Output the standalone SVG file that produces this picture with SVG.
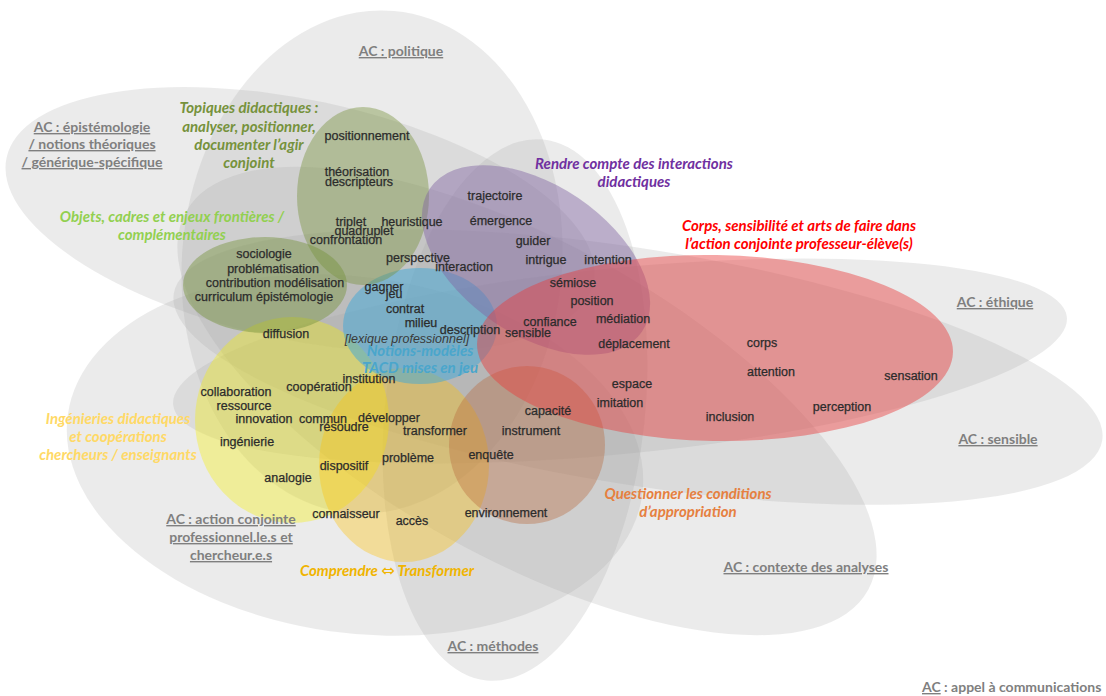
<svg xmlns="http://www.w3.org/2000/svg" width="1106" height="696" viewBox="0 0 1106 696">
<style>
.gray{fill:#a6a6a6;fill-opacity:.22}
.ac{font-family:Lato,"Liberation Sans",sans-serif;font-weight:bold;font-size:14px;fill:#7f7f7f;text-anchor:middle;text-decoration:underline}
.lab{font-family:Lato,"Liberation Sans",sans-serif;font-weight:bold;font-style:italic;font-size:15px;text-anchor:middle}
.w{font-family:"Liberation Sans",Arial,sans-serif;font-size:12.5px;fill:#2b2b2b;stroke:#2b2b2b;stroke-width:.25;text-anchor:middle}
</style>
<rect width="1106" height="696" fill="#ffffff"/>
<g id="ac-politique"><ellipse class="gray" cx="372" cy="262" rx="190" ry="252" transform="rotate(5 372 262)"/></g>
<g id="ac-epistemologie"><ellipse class="gray" cx="300" cy="220" rx="300" ry="120" transform="rotate(12 300 220)"/></g>
<g id="ac-action-conjointe"><ellipse class="gray" cx="355" cy="455" rx="290" ry="178" transform="rotate(8 355 455)"/></g>
<g id="ac-methodes"><ellipse class="gray" cx="515" cy="410" rx="130" ry="272" transform="rotate(6 515 410)"/></g>
<g id="ac-contexte"><ellipse class="gray" cx="527" cy="401" rx="390" ry="158" transform="rotate(29 527 401)"/></g>
<g id="ac-sensible"><ellipse class="gray" cx="638" cy="367" rx="470" ry="118" transform="rotate(9 638 367)"/></g>
<g id="ac-ethique"><ellipse class="gray" cx="620" cy="361" rx="449" ry="93" transform="rotate(-5.6 620 361)"/></g>

<g id="ingenieries"><ellipse cx="292" cy="420" rx="97" ry="103" fill="#f5f000" fill-opacity=".35"/></g>
<g id="comprendre"><ellipse cx="404" cy="465" rx="85" ry="97" fill="#ffc000" fill-opacity=".35"/></g>
<g id="questionner"><ellipse cx="527" cy="445" rx="78" ry="79" fill="#b86a3c" fill-opacity=".38"/></g>
<g id="notions"><ellipse cx="420" cy="326" rx="77" ry="58" fill="#40a8d8" fill-opacity=".5"/></g>
<g id="topiques"><ellipse cx="363" cy="196" rx="66" ry="89" fill="#76923c" fill-opacity=".42"/></g>
<g id="objets"><ellipse cx="265" cy="285" rx="82" ry="48" fill="#76923c" fill-opacity=".45"/></g>
<g id="rendre-compte"><ellipse cx="536" cy="260" rx="128" ry="75" transform="rotate(34 536 260)" fill="#8064a2" fill-opacity=".45"/></g>
<g id="corps"><ellipse cx="715" cy="348" rx="238" ry="93" transform="rotate(1 715 348)" fill="#e83c3c" fill-opacity=".45"/></g>

<g id="ac-labels">
<text class="ac" x="401" y="56">AC : politique</text>
<text class="ac" x="92" y="132">AC : épistémologie</text>
<text class="ac" x="92" y="149">/ notions théoriques</text>
<text class="ac" x="92" y="167">/ générique-spécifique</text>
<text class="ac" x="995" y="307">AC : éthique</text>
<text class="ac" x="998" y="444">AC : sensible</text>
<text class="ac" x="806" y="572">AC : contexte des analyses</text>
<text class="ac" x="493" y="651">AC : méthodes</text>
<text class="ac" x="231" y="524">AC : action conjointe</text>
<text class="ac" x="231" y="542">professionnel.le.s et</text>
<text class="ac" x="231" y="560">chercheur.e.s</text>
<text x="922" y="692" font-family="Lato,'Liberation Sans',sans-serif" font-weight="bold" font-size="14" fill="#7f7f7f"><tspan text-decoration="underline">AC</tspan> : appel à communications</text>
</g>

<g id="theme-labels">
<text class="lab" fill="#76923c" x="249" y="113">Topiques didactiques :</text>
<text class="lab" fill="#76923c" x="249" y="132">analyser, positionner,</text>
<text class="lab" fill="#76923c" x="249" y="150">documenter l’agir</text>
<text class="lab" fill="#76923c" x="249" y="168">conjoint</text>
<text class="lab" fill="#92d050" x="172" y="222">Objets, cadres et enjeux frontières /</text>
<text class="lab" fill="#92d050" x="172" y="240">complémentaires</text>
<text class="lab" fill="#7030a0" x="634" y="169">Rendre compte des interactions</text>
<text class="lab" fill="#7030a0" x="634" y="187">didactiques</text>
<text class="lab" fill="#ff0000" x="799" y="231">Corps, sensibilité et arts de faire dans</text>
<text class="lab" fill="#ff0000" x="799" y="249">l’action conjointe professeur-élève(s)</text>
<text class="lab" fill="#ffd966" x="118" y="424">Ingénieries didactiques</text>
<text class="lab" fill="#ffd966" x="118" y="442">et coopérations</text>
<text class="lab" fill="#ffd966" x="118" y="460">chercheurs / enseignants</text>
<text class="lab" fill="#4aa6cc" x="420" y="356">Notions-modèles</text>
<text class="lab" fill="#4aa6cc" x="420" y="373">TACD mises en jeu</text>
<text class="lab" fill="#e6803f" x="688" y="499">Questionner les conditions</text>
<text class="lab" fill="#e6803f" x="688" y="517">d’appropriation</text>
<text class="lab" fill="#f0b400" x="387" y="576">Comprendre <tspan font-family="'DejaVu Sans',sans-serif" font-style="normal" font-weight="normal" font-size="16">⇔</tspan> Transformer</text>
<text x="407" y="343" font-family="'Liberation Sans',Arial,sans-serif" font-style="italic" font-size="12.5" fill="#3a3a3a" text-anchor="middle">[lexique professionnel]</text>
</g>

<g id="terms">
<text class="w" x="367" y="140">positionnement</text>
<text class="w" x="357" y="176">théorisation</text>
<text class="w" x="359" y="186">descripteurs</text>
<text class="w" x="351" y="226">triplet</text>
<text class="w" x="412" y="226">heuristique</text>
<text class="w" x="364" y="235">quadruplet</text>
<text class="w" x="346" y="244">confrontation</text>
<text class="w" x="495" y="200">trajectoire</text>
<text class="w" x="501" y="225">émergence</text>
<text class="w" x="533" y="245">guider</text>
<text class="w" x="546" y="264">intrigue</text>
<text class="w" x="608" y="264">intention</text>
<text class="w" x="418" y="262">perspective</text>
<text class="w" x="464" y="271">interaction</text>
<text class="w" x="264" y="258">sociologie</text>
<text class="w" x="273" y="273">problématisation</text>
<text class="w" x="275" y="287">contribution modélisation</text>
<text class="w" x="264" y="301">curriculum épistémologie</text>
<text class="w" x="384" y="291">gagner</text>
<text class="w" x="394" y="298">jeu</text>
<text class="w" x="405" y="313">contrat</text>
<text class="w" x="421" y="327">milieu</text>
<text class="w" x="470" y="334">description</text>
<text class="w" x="528" y="337">sensible</text>
<text class="w" x="550" y="326">confiance</text>
<text class="w" x="573" y="287">sémiose</text>
<text class="w" x="592" y="305">position</text>
<text class="w" x="623" y="323">médiation</text>
<text class="w" x="634" y="348">déplacement</text>
<text class="w" x="286" y="338">diffusion</text>
<text class="w" x="369" y="383">institution</text>
<text class="w" x="319" y="391">coopération</text>
<text class="w" x="236" y="396">collaboration</text>
<text class="w" x="244" y="410">ressource</text>
<text class="w" x="264" y="423">innovation</text>
<text class="w" x="323" y="423">commun</text>
<text class="w" x="389" y="422">développer</text>
<text class="w" x="344" y="431">résoudre</text>
<text class="w" x="435" y="435">transformer</text>
<text class="w" x="247" y="446">ingénierie</text>
<text class="w" x="408" y="462">problème</text>
<text class="w" x="344" y="470">dispositif</text>
<text class="w" x="288" y="482">analogie</text>
<text class="w" x="346" y="518">connaisseur</text>
<text class="w" x="412" y="525">accès</text>
<text class="w" x="548" y="415">capacité</text>
<text class="w" x="531" y="435">instrument</text>
<text class="w" x="491" y="459">enquête</text>
<text class="w" x="506" y="517">environnement</text>
<text class="w" x="632" y="388">espace</text>
<text class="w" x="620" y="407">imitation</text>
<text class="w" x="762" y="347">corps</text>
<text class="w" x="771" y="376">attention</text>
<text class="w" x="911" y="380">sensation</text>
<text class="w" x="842" y="411">perception</text>
<text class="w" x="730" y="421">inclusion</text>
</g>
</svg>
